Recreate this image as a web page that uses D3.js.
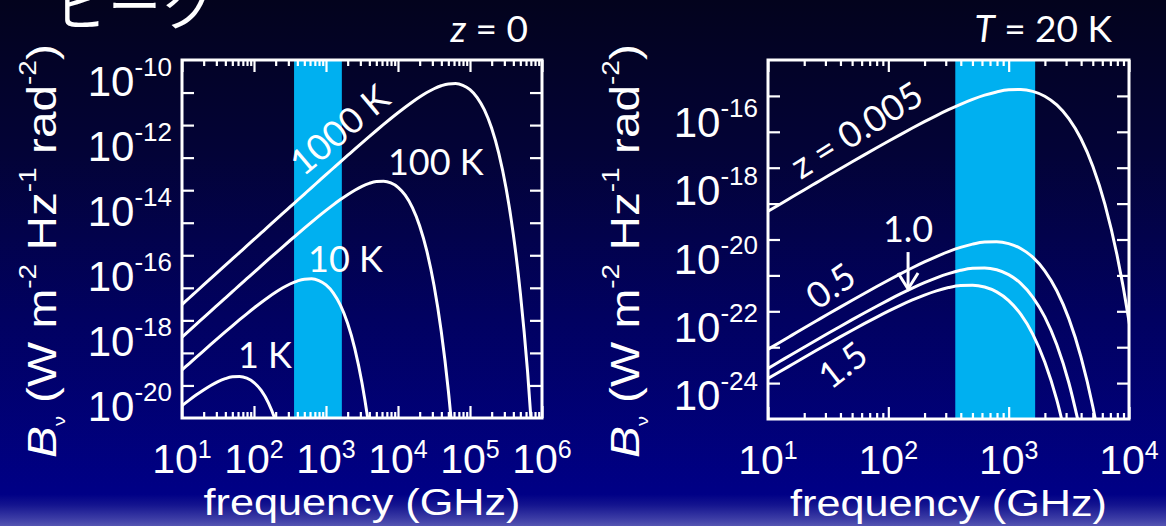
<!DOCTYPE html>
<html>
<head>
<meta charset="utf-8">
<script src="https://cdn.jsdelivr.net/npm/d3@7/dist/d3.min.js"></script>
<style>
  html, body { margin: 0; padding: 0; background: #020226; overflow: hidden; }
  svg { display: block; }
</style>
</head>
<body>
<svg id="chart" width="1166" height="526"></svg>
<script>
// Shared frequency grid: log10 of frequency in GHz
const logFreq = [1.0, 1.1, 1.2, 1.3, 1.4, 1.5, 1.6, 1.7, 1.8, 1.9,
                 2.0, 2.1, 2.2, 2.3, 2.4, 2.5, 2.6, 2.7, 2.8, 2.9,
                 3.0, 3.1, 3.2, 3.3, 3.4, 3.5, 3.6, 3.7, 3.8, 3.9,
                 4.0, 4.1, 4.2, 4.3, 4.4, 4.5, 4.6, 4.7, 4.8, 4.9,
                 5.0, 5.1, 5.2, 5.3, 5.4, 5.5, 5.6, 5.7, 5.8, 5.9, 6.0];

// Left panel (z = 0): log10 B_nu in W m^-2 Hz^-1 rad^-2, one entry per logFreq step
const tempLabels = ["1 K", "10 K", "100 K", "1000 K"];
const logB_1K = [-19.621, -19.450, -19.288, -19.137, -19.000, -18.883, -18.792, -18.735, -18.725, -18.777,
                 -18.912, -19.154, -19.535, -20.090, -20.867, -21.923];
const logB_10K = [-18.523, -18.326, -18.129, -17.934, -17.739, -17.546, -17.355, -17.166, -16.980, -16.798,
                  -16.621, -16.450, -16.288, -16.137, -16.000, -15.883, -15.792, -15.735, -15.725, -15.777,
                  -15.912, -16.154, -16.535, -17.090, -17.867, -18.923, -20.329, -22.178];
const logB_100K = [-17.514, -17.314, -17.114, -16.915, -16.715, -16.516, -16.317, -16.118, -15.919, -15.721,
                   -15.523, -15.326, -15.129, -14.934, -14.739, -14.546, -14.355, -14.166, -13.980, -13.798,
                   -13.621, -13.450, -13.288, -13.137, -13.000, -12.883, -12.792, -12.735, -12.725, -12.777,
                   -12.912, -13.154, -13.535, -14.090, -14.867, -15.923, -17.329, -19.178, -21.582];
const logB_1000K = [-16.513, -16.313, -16.113, -15.913, -15.713, -15.513, -15.313, -15.113, -14.913, -14.713,
                    -14.514, -14.314, -14.114, -13.915, -13.715, -13.516, -13.317, -13.118, -12.919, -12.721,
                    -12.523, -12.326, -12.129, -11.934, -11.739, -11.546, -11.355, -11.166, -10.980, -10.798,
                    -10.621, -10.450, -10.288, -10.137, -10.000, -9.883, -9.792, -9.735, -9.725, -9.777,
                    -9.912, -10.154, -10.535, -11.090, -11.867, -12.923, -14.329, -16.178, -18.582, -21.688];

// Right panel (T = 20 K): log10 B_nu at several redshifts
const redshiftLabels = ["z = 0.005", "0.5", "1.0", "1.5"];
const logB_z0005 = [-18.215, -18.016, -17.818, -17.620, -17.423, -17.226, -17.031, -16.836, -16.643, -16.452,
                    -16.263, -16.077, -15.895, -15.718, -15.547, -15.385, -15.234, -15.097, -14.980, -14.889,
                    -14.832, -14.822, -14.874, -15.009, -15.251, -15.632, -16.187, -16.964, -18.020, -19.426,
                    -21.275, -23.679];
const logB_z05 = [-22.058, -21.860, -21.663, -21.466, -21.271, -21.076, -20.883, -20.692, -20.503, -20.317,
                  -20.135, -19.958, -19.787, -19.625, -19.474, -19.337, -19.220, -19.129, -19.072, -19.062,
                  -19.114, -19.249, -19.491, -19.872, -20.427, -21.204, -22.260, -23.666, -25.515];
const logB_z10 = [-22.590, -22.393, -22.196, -22.001, -21.806, -21.613, -21.422, -21.233, -21.047, -20.865,
                  -20.688, -20.517, -20.355, -20.204, -20.067, -19.950, -19.859, -19.802, -19.792, -19.844,
                  -19.979, -20.221, -20.602, -21.157, -21.934, -22.990, -24.396];
const logB_z15 = [-22.873, -22.676, -22.481, -22.286, -22.093, -21.902, -21.713, -21.527, -21.345, -21.168,
                  -20.997, -20.835, -20.684, -20.547, -20.430, -20.339, -20.282, -20.272, -20.324, -20.459,
                  -20.701, -21.082, -21.637, -22.414, -23.470, -24.876];

// Observing band (GHz)
const bandGHz = [360, 1660];

// Tick label exponents
const xTickExpLeft = [1, 2, 3, 4, 5, 6];
const yTickExpLeft = [-10, -12, -14, -16, -18, -20];
const xTickExpRight = [1, 2, 3, 4];
const yTickExpRight = [-16, -18, -20, -22, -24];

const W = 1166, H = 526;
const svg = d3.select("#chart");
const defs = svg.append("defs");

const TICK_FONT = "'Liberation Sans', Arial, Helvetica, sans-serif";
const NOTE_FONT = "Lato, 'Open Sans', sans-serif";

// Slide background
const bg = defs.append("linearGradient").attr("id", "bg")
  .attr("x1", 0).attr("y1", 0).attr("x2", 0).attr("y2", 1);
[[0, "#03031d"], [0.3, "#030338"], [0.6, "#010160"], [0.94, "#000086"],
 [0.96, "#14148f"], [0.985, "#3a3aa4"], [1, "#5454b2"]]
  .forEach(([o, c]) => bg.append("stop").attr("offset", o).attr("stop-color", c));
svg.append("rect").attr("width", W).attr("height", H).attr("fill", "url(#bg)");

// Heading (partly above the top edge)
svg.append("text")
  .attr("x", 55).attr("y", 26)
  .attr("font-family", "'Noto Sans CJK JP', sans-serif")
  .attr("font-size", 53)
  .attr("fill", "#fff")
  .text("ピーク");

function sup(textSel, base, exp, baseSize, expSize, dy) {
  textSel.append("tspan").attr("font-size", baseSize).text(base);
  textSel.append("tspan").attr("font-size", expSize).attr("dy", dy).text(exp);
}

function fitLength(sel, target) {
  const len = sel.node().getComputedTextLength();
  return target / len;
}

function drawPanel(p) {
  const x = d3.scaleLog().domain(p.xDomain).range([p.left, p.right]);
  const y = d3.scaleLog().domain(p.yDomain).range([p.bottom, p.top]);
  const yLab = d3.scaleLog().domain(p.yDomain).range(p.labelRange);
  const g = svg.append("g");

  const clipId = "clip-" + p.id;
  defs.append("clipPath").attr("id", clipId).append("rect")
    .attr("x", p.left).attr("y", p.top)
    .attr("width", p.right - p.left).attr("height", p.bottom - p.top);

  // band
  g.append("rect")
    .attr("clip-path", `url(#${clipId})`)
    .attr("x", x(bandGHz[0])).attr("y", p.top)
    .attr("width", x(bandGHz[1]) - x(bandGHz[0]))
    .attr("height", p.bottom - p.top)
    .attr("fill", "#00b0f0");

  // spectra
  const line = d3.line()
    .x(d => x(d[0])).y(d => y(d[1]))
    .curve(d3.curveMonotoneX);
  const curves = g.append("g").attr("clip-path", `url(#${clipId})`);
  p.series.forEach(s => {
    const pts = s.map((v, i) => [Math.pow(10, logFreq[i]), Math.pow(10, v)]);
    curves.append("path")
      .attr("d", line(pts))
      .attr("fill", "none")
      .attr("stroke", "#fff")
      .attr("stroke-width", 3)
      .attr("stroke-linejoin", "round");
  });

  // ticks on all four sides, pointing inward
  const decLo = Math.round(Math.log10(p.xDomain[0]));
  const decHi = Math.round(Math.log10(p.xDomain[1]));
  const xMajor = d3.range(decLo, decHi + 1).map(k => Math.pow(10, k));
  const xMinor = [];
  for (let k = decLo; k < decHi; k++) for (let m = 2; m <= 9; m++) xMinor.push(m * Math.pow(10, k));
  const yLo = Math.round(Math.log10(p.yDomain[0]));
  const yHi = Math.round(Math.log10(p.yDomain[1]));
  const yMajor = d3.range(yLo + 1, yHi).map(k => Math.pow(10, k));

  const styleAxis = a => {
    a.select(".domain").remove();
    a.selectAll("text").remove();
    a.selectAll(".tick line").attr("stroke", "#fff").attr("stroke-width", 2.2);
  };
  const addAxis = (axis, tx, ty) =>
    g.append("g").attr("transform", `translate(${tx},${ty})`).call(axis).call(styleAxis);

  addAxis(d3.axisBottom(x).tickValues(xMajor).tickSize(-12).tickFormat(""), 0, p.bottom);
  addAxis(d3.axisBottom(x).tickValues(xMinor).tickSize(-6).tickFormat(""), 0, p.bottom);
  addAxis(d3.axisTop(x).tickValues(xMajor).tickSize(-12).tickFormat(""), 0, p.top);
  addAxis(d3.axisTop(x).tickValues(xMinor).tickSize(-6).tickFormat(""), 0, p.top);
  addAxis(d3.axisLeft(y).tickValues(yMajor).tickSize(-12).tickFormat(""), p.left, 0);
  addAxis(d3.axisRight(y).tickValues(yMajor).tickSize(-12).tickFormat(""), p.right, 0);

  // frame
  g.append("rect")
    .attr("x", p.left).attr("y", p.top)
    .attr("width", p.right - p.left).attr("height", p.bottom - p.top)
    .attr("fill", "none").attr("stroke", "#fff").attr("stroke-width", 3);

  // x tick labels
  p.xTickExp.forEach(k => {
    const t = g.append("text")
      .attr("x", x(Math.pow(10, k))).attr("y", p.bottom + 55)
      .attr("text-anchor", "middle")
      .attr("font-family", TICK_FONT).attr("fill", "#fff");
    sup(t, "10", String(k), 41, 25, -15);
  });

  // y tick labels
  p.yTickExp.forEach(k => {
    const t = g.append("text")
      .attr("x", p.left - 10).attr("y", yLab(Math.pow(10, k)))
      .attr("text-anchor", "end")
      .attr("font-family", TICK_FONT).attr("fill", "#fff");
    sup(t, "10", String(k), 42, 26, -20);
  });

  // x axis title
  const xt = g.append("text")
    .attr("text-anchor", "middle")
    .attr("font-family", TICK_FONT).attr("font-size", 37).attr("fill", "#fff")
    .text("frequency (GHz)");
  const sx = fitLength(xt, 317);
  xt.attr("transform", `translate(${(p.left + p.right) / 2},${p.bottom + 97}) scale(${sx},1)`);

  // y axis title
  const yt = g.append("text")
    .attr("font-family", TICK_FONT).attr("font-size", 41).attr("fill", "#fff");
  yt.append("tspan").attr("font-style", "italic").text("B");
  yt.append("tspan").attr("font-size", 17).attr("dy", 9).text("ν");
  yt.append("tspan").attr("dy", -9).text(" (W m");
  yt.append("tspan").attr("font-size", 24).attr("dy", -20).text("-2");
  yt.append("tspan").attr("dy", 20).text(" Hz");
  yt.append("tspan").attr("font-size", 24).attr("dy", -20).text("-1");
  yt.append("tspan").attr("dy", 20).text(" rad");
  yt.append("tspan").attr("font-size", 24).attr("dy", -20).text("-2");
  yt.append("tspan").attr("dy", 20).text(")");
  const sy = fitLength(yt, 414);
  yt.attr("transform", `translate(${p.titleX},458) rotate(-90) scale(${sy},1)`);

  // panel heading
  const ht = g.append("text")
    .attr("x", p.right - p.headInset).attr("y", p.top - 18)
    .attr("text-anchor", "end")
    .attr("font-family", NOTE_FONT).attr("font-size", 37).attr("fill", "#fff");
  ht.append("tspan").attr("font-style", "italic").text(p.headVar);
  ht.append("tspan").text(p.headRest);

  // curve annotations, placed in data coordinates
  p.notes.forEach(n => {
    const px = x(Math.pow(10, n.logF)), py = y(Math.pow(10, n.logB));
    g.append("text")
      .attr("transform", `translate(${px},${py}) rotate(${n.rot || 0})`)
      .attr("text-anchor", n.anchor || "start")
      .attr("dominant-baseline", n.rot ? "central" : "auto")
      .attr("font-family", NOTE_FONT).attr("font-size", 36).attr("fill", "#fff")
      .text(n.text);
  });

  return { x, y, g };
}

const left = drawPanel({
  id: "z0",
  left: 182, right: 542, top: 60, bottom: 418,
  xDomain: [1e1, 1e6], yDomain: [1e-20, 1e-9],
  labelRange: [421, 63],
  series: [logB_1K, logB_10K, logB_100K, logB_1000K],
  xTickExp: xTickExpLeft, yTickExp: yTickExpLeft,
  titleX: 56,
  headInset: 14, headVar: "z", headRest: " = 0",
  notes: [
    { text: tempLabels[3], logF: 3.18, logB: -11.12, rot: -40, anchor: "middle" },
    { text: tempLabels[2], logF: 3.861, logB: -12.533 },
    { text: tempLabels[1], logF: 2.75, logB: -15.513 },
    { text: tempLabels[0], logF: 1.778, logB: -18.462 }
  ]
});

const right = drawPanel({
  id: "t20",
  left: 768, right: 1129, top: 60, bottom: 419,
  xDomain: [1e1, 1e4], yDomain: [1e-24, 1e-14],
  labelRange: [410, 68.75],
  series: [logB_z0005, logB_z05, logB_z10, logB_z15],
  xTickExp: xTickExpRight, yTickExp: yTickExpRight,
  titleX: 639,
  headInset: 17, headVar: "T", headRest: " = 20 K",
  notes: [
    { text: redshiftLabels[0], logF: 1.731, logB: -15.922, rot: -32, anchor: "middle" },
    { text: redshiftLabels[2], logF: 2.164, logB: -19.07, anchor: "middle" },
    { text: redshiftLabels[1], logF: 1.515, logB: -20.267, rot: -35, anchor: "middle" },
    { text: redshiftLabels[3], logF: 1.615, logB: -22.468, rot: -38, anchor: "middle" }
  ]
});

// arrow from the "1.0" label down to its curve
{
  const { x, y, g } = right;
  const ax = x(Math.pow(10, 2.164));
  const y0 = y(Math.pow(10, -19.35)), y1 = y(Math.pow(10, -20.38));
  g.append("line").attr("x1", ax).attr("x2", ax).attr("y1", y0).attr("y2", y1 - 1)
    .attr("stroke", "#fff").attr("stroke-width", 3);
  g.append("path")
    .attr("d", `M${ax - 10},${y1 - 16} L${ax},${y1} L${ax + 10},${y1 - 16}`)
    .attr("fill", "none").attr("stroke", "#fff").attr("stroke-width", 3)
    .attr("stroke-linejoin", "miter");
}
</script>
</body>
</html>
